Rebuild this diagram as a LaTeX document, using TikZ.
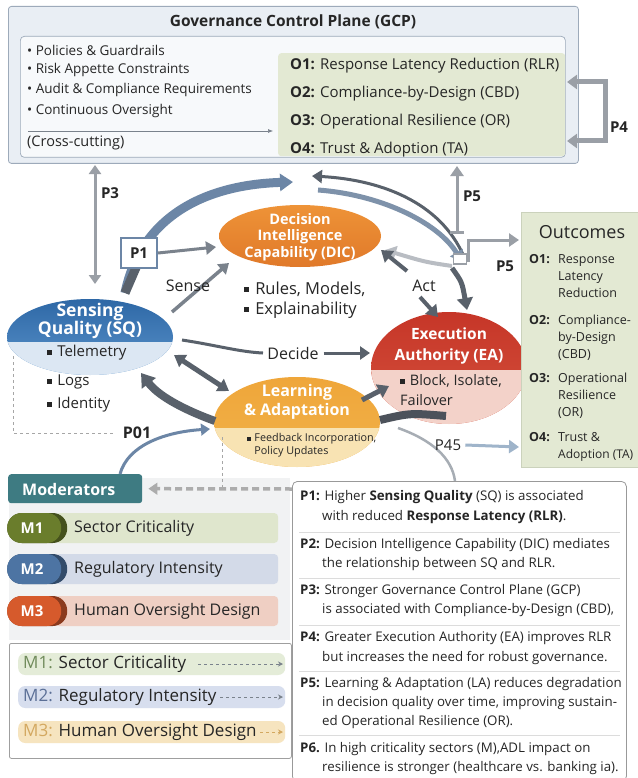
\documentclass[tikz,border=0pt]{standalone}
\usepackage{fontspec}
\setmainfont{Open Sans}
\usetikzlibrary{arrows.meta,shapes.geometric,calc}
\newcommand\fsz[2]{\fontsize{#1}{#2}\selectfont}
\newcommand\sqb{\raisebox{0.22ex}{\rule{0.32em}{0.32em}}\hspace{0.35em}}
\definecolor{txt}{HTML}{262626}
\definecolor{gcpfill}{HTML}{E9EEF4}
\definecolor{gcpline}{HTML}{9DAABA}
\definecolor{innerfill}{HTML}{F7F9FB}
\definecolor{grn}{HTML}{E3E9D3}
\definecolor{grnline}{HTML}{CBD2BC}
\definecolor{sqA}{HTML}{2E68A6}
\definecolor{sqB}{HTML}{5A93CB}
\definecolor{sqL}{HTML}{DCE7F3}
\definecolor{dicA}{HTML}{EE9337}
\definecolor{dicB}{HTML}{E0792A}
\definecolor{eaA}{HTML}{C63628}
\definecolor{eaB}{HTML}{D4503C}
\definecolor{eaL}{HTML}{F3D2C9}
\definecolor{laA}{HTML}{EFA63A}
\definecolor{laB}{HTML}{F1B24A}
\definecolor{laL}{HTML}{F8E3B3}
\definecolor{arrD}{HTML}{59616B}
\definecolor{arrM}{HTML}{7A828C}
\definecolor{arrL}{HTML}{A7ADB4}
\definecolor{arrG}{HTML}{9A9FA6}
\definecolor{arrB}{HTML}{6C86A6}
\definecolor{arrP}{HTML}{9FB4CA}
\definecolor{modteal}{HTML}{3E7B82}
\definecolor{panel}{HTML}{F1F2F3}
\definecolor{mA}{HTML}{6A7D2C}
\definecolor{mAl}{HTML}{DFE6CD}
\definecolor{mB}{HTML}{4D74A3}
\definecolor{mBl}{HTML}{D3DAE8}
\definecolor{mC}{HTML}{D65A2C}
\definecolor{mCl}{HTML}{EFCFC3}
\definecolor{lA}{HTML}{E4ECD8}
\definecolor{lAt}{HTML}{6F8A5A}
\definecolor{lB}{HTML}{D7DEEE}
\definecolor{lBt}{HTML}{5B6F96}
\definecolor{lC}{HTML}{F6E4BF}
\definecolor{lCt}{HTML}{D3A860}
\definecolor{divl}{HTML}{DCDCDC}
\begin{document}
\begin{tikzpicture}[x=1pt,y=-1pt,
  every node/.style={text=txt},
  body/.style={anchor=west, inner sep=0, font=\fsz{13.5}{16}},
  pline/.style={anchor=base west, inner sep=0, font=\fsz{13.3}{15}},
  oline/.style={anchor=base west, inner sep=0, font=\fsz{12.5}{15}},
  ttl/.style={text=white, align=center, inner sep=0},
  lbl/.style={font=\bfseries\fsz{13.5}{16}, inner sep=0},
  tip/.style={-{Triangle[length=#1pt,width=#1pt*1.3]}},
  ell/.style={ellipse, inner sep=0},
  bar/.style={anchor=west, inner sep=0, rounded corners=4pt},
  pill/.style={anchor=west, inner sep=0, rounded corners=14.5pt, minimum height=30pt}
]
\useasboundingbox[fill=white] (0,0) rectangle (637,778);

% ---------------- GCP ----------------
\node[draw=gcpline, fill=gcpfill, rounded corners=3pt, line width=0.8pt, anchor=north west,
      minimum width=570pt, minimum height=157pt, inner sep=0] (gcp) at (8,6) {};
\node[font=\bfseries\fsz{15.5}{18}] (gcpt) at (293,22) {Governance Control Plane (GCP)};
\node[draw=gcpline, fill=innerfill, rounded corners=4pt, line width=0.7pt, anchor=north west,
      minimum width=545pt, minimum height=121pt, inner sep=0] (gcpin) at (20,36) {};
\node[fill=grn, rounded corners=3pt, anchor=north west, minimum width=287pt,
      minimum height=103pt, inner sep=0] (grnbox) at (278,53) {};
\node[body] (b1) at (27,50) {• Policies \& Guardrails};
\node[body] (b2) at (27,70) {• Risk Appette Constraints};
\node[body] (b3) at (27,90) {• Audit \& Compliance Requirements};
\node[body] (b4) at (27,111) {• Continuous Oversight};
\coordinate (cc1) at (28,131);
\coordinate (cc2) at (273,131);
\draw[arrM, line width=0.6pt, -{Latex[length=5pt,width=4pt]}] (cc1) -- (cc2);
\node[body, font=\fsz{14.5}{17}] (b5) at (27,143) {(Cross-cutting)};
\node[body, font=\fsz{15}{17}] (go1) at (290,66) {\textbf{O1:} Response Latency Reduction (RLR)};
\node[body, font=\fsz{15}{17}] (go2) at (290,94) {\textbf{O2:} Compliance-by-Design (CBD)};
\node[body, font=\fsz{15}{17}] (go3) at (290,122) {\textbf{O3:} Operational Resilience (OR)};
\node[body, font=\fsz{15}{17}] (go4) at (290,150) {\textbf{O4:} Trust \& Adoption (TA)};

% P4 bracket
\coordinate (p4a) at (567,82);
\coordinate (p4b) at (605,82);
\coordinate (p4c) at (605,141);
\coordinate (p4d) at (567,141);
\draw[arrG, line width=5pt, line join=miter,
      {Triangle[length=10pt,width=14pt]}-{Triangle[length=10pt,width=14pt]}] (p4a) -- (p4b) -- (p4c) -- (p4d);
\node[lbl, font=\bfseries\fsz{15}{17}] (p4l) at (619,127) {P4};

% P3
\coordinate (p3a) at (95,165);
\coordinate (p3b) at (95,284);
\draw[arrG, line width=3pt, {Triangle[length=9pt,width=12pt]}-{Triangle[length=9pt,width=12pt]}] (p3a) -- (p3b);
\node[lbl, font=\bfseries\fsz{15}{17}] (p3l) at (110,193) {P3};

% ---------------- ellipses ----------------
\node[ell, minimum width=166pt, minimum height=76pt, top color=sqA, bottom color=sqB,
  path picture={\fill[sqL] ([yshift=-5pt]path picture bounding box.west) rectangle (path picture bounding box.south east);}]
  (SQ) at (90,337) {};
\node[ttl, font=\bfseries\fsz{17.5}{18.5}] (sqt) at (90,321) {Sensing\\Quality (SQ)};
\node[body, font=\fsz{15}{17}] (sq1) at (47,353) {\sqb Telemetry};
\node[body, font=\fsz{15}{17}] (sq2) at (47,382) {\sqb Logs};
\node[body, font=\fsz{15}{17}] (sq3) at (47,405) {\sqb Identity};

\node[ell, minimum width=162pt, minimum height=62pt, top color=dicA, bottom color=dicB] (DIC) at (300,236) {};
\node[ttl, font=\bfseries\fsz{14.5}{16.5}] (dict) at (300,237) {Decision\\Intelligence\\Capability (DIC)};
\node[body, font=\fsz{16.5}{18}] (dic1) at (244,289) {\sqb Rules, Models,};
\node[body, font=\fsz{16.5}{18}] (dic2) at (244,310) {\sqb Explainability};

\node[ell, minimum width=156pt, minimum height=112pt, top color=eaA, bottom color=eaB,
  path picture={\fill[eaL] ([yshift=-2pt]path picture bounding box.west) rectangle (path picture bounding box.south east);}]
  (EA) at (449,368) {};
\node[ttl, font=\bfseries\fsz{15.5}{21}] (eat) at (449,346) {Execution\\Authority (EA)};
\node[body, font=\fsz{14.5}{17}] (ea1) at (400,381) {\sqb Block, Isolate,};
\node[body, font=\fsz{14.5}{17}] (ea2) at (400,400) {Failover};

\node[ell, minimum width=166pt, minimum height=90pt, top color=laA, bottom color=laB,
  path picture={\fill[laL] ([yshift=-6pt]path picture bounding box.west) rectangle (path picture bounding box.south east);}]
  (LA) at (297,422) {};
\node[ttl, font=\bfseries\fsz{16}{19}] (lat) at (297,402) {Learning\\\& Adaptation};
\node[body, font=\fsz{10.8}{13}] (la1) at (247,439) {\sqb Feedback Incorporation,};
\node[body, font=\fsz{10.8}{13}] (la2) at (247,452) {\hphantom{\sqb}Policy Updates};

% ---------------- central connectors ----------------
\coordinate (a1s) at (125,293);
\coordinate (a1e) at (293,182);
\draw[arrB, line width=9pt, tip=13] (a1s) .. controls (140,220) and (200,185) .. (a1e);
\draw[arrD, line width=9pt] (a1s) -- (138,263);
\node[draw=arrB, fill=white, line width=2pt, minimum width=36pt, minimum height=30pt, inner sep=0,
      font=\bfseries\fsz{15}{17}] (P1) at (139,253) {P1};
\coordinate (dicw) at (216,247);
\draw[arrM, line width=3pt, tip=10] (P1.east) -- (dicw);

\coordinate (sen1) at (172,312);
\coordinate (sen2) at (229,263);
\draw[arrM, line width=3.5pt, tip=10] (sen1) -- (sen2);
\node[font=\fsz{16}{18}, inner sep=0] (sense) at (188,286) {Sense};

\coordinate (dc1) at (182,340);
\coordinate (dc2) at (263,353);
\coordinate (eaw) at (370,353);
\draw[arrD, line width=3pt] (dc1) .. controls (215,345) and (240,352) .. (dc2);
\node[font=\fsz{16}{18}, inner sep=0] (dec) at (293,353) {Decide};
\draw[arrD, line width=3pt, tip=10] ([xshift=5pt]dec.east) -- (eaw);

\coordinate (sl1) at (174,355);
\coordinate (sl2) at (229,391);
\draw[arrD, line width=5pt, {Triangle[length=11pt,width=14pt]}-{Triangle[length=11pt,width=14pt]}] (sl1) -- (sl2);
\coordinate (ls1) at (215,421);
\coordinate (ls2) at (141,373);
\draw[arrD, line width=8pt, tip=13] (ls1) .. controls (190,412) and (160,398) .. (ls2);

\coordinate (t1) at (466,262);
\coordinate (t2) at (312,176);
\draw[arrD, line width=3pt, tip=10] (t1) .. controls (445,205) and (385,180) .. (t2);
\coordinate (t3) at (318,190);
\coordinate (t4) at (462,262);
\draw[color=arrB!70!arrL, line width=5pt, tip=11] (t3) .. controls (385,195) and (440,225) .. (t4);
\coordinate (t5) at (452,266);
\coordinate (dice) at (385,250);
\draw[color=arrL!80!white, line width=4pt, tip=11] (t5) .. controls (425,262) .. (dice);

\coordinate (ac1) at (407,271);
\coordinate (ac2) at (381,250);
\draw[arrD, line width=4pt, tip=11] (ac1) -- (ac2);
\node[font=\fsz{16}{18}, inner sep=0] (act) at (424,286) {Act};
\coordinate (ac3) at (420,297);
\coordinate (ac4) at (438,317);
\draw[arrD, line width=4pt, tip=11] (ac3) -- (ac4);

\coordinate (e1) at (452,268);
\coordinate (e2) at (467,310);
\draw[arrD, line width=5pt, tip=12] (e1) .. controls (462,282) .. (e2);

\coordinate (p5a) at (457,232);
\coordinate (p5b) at (457,166);
\draw[arrG, line width=3pt, tip=10] (p5a) -- (p5b);
\draw[arrG, line width=3pt] (450,232) -- (464,232);
\node[lbl, font=\bfseries\fsz{15}{17}] (p5l) at (472,196) {P5};
\coordinate (st1) at (468,262);
\coordinate (st2) at (519,240);
\draw[arrG, line width=3pt, tip=10] (st1) |- (st2);
\node[draw=arrG, fill=white, line width=1.2pt, minimum width=13pt, minimum height=10pt, inner sep=0] (sq5) at (460,259) {};
\node[lbl, font=\bfseries\fsz{15}{17}] (p5m) at (505,266) {P5};

\coordinate (le1) at (362,400);
\coordinate (le2) at (389,386);
\draw[arrD, line width=5pt, tip=11] (le1) -- (le2);
\coordinate (bd1) at (380,420);
\coordinate (bd2) at (446,416);
\draw[color=arrD!85!black, line width=8pt] (bd1) .. controls (410,413) .. (bd2);
\coordinate (tc1) at (398,428);
\coordinate (tc2) at (455,481);
\draw[arrL, line width=2.5pt] (tc1) .. controls (432,440) and (452,458) .. (tc2);

% ---------------- Outcomes ----------------
\node[fill=grn, draw=grnline, anchor=north west, minimum width=125pt, minimum height=255pt, inner sep=0] (outc) at (521,212) {};
\node[font=\fsz{18}{21}, inner sep=0] (outt) at (582,232) {Outcomes};
\node[oline, font=\bfseries\fsz{12.5}{15}] (ol1) at (529,263) {O1:};
\node[oline] (ob1a) at (558,263) {Response};
\node[oline] (ob1b) at (558,280) {Latency};
\node[oline] (ob1c) at (558,297) {Reduction};
\node[oline, font=\bfseries\fsz{12.5}{15}] (ol2) at (529,324) {O2:};
\node[oline] (ob2a) at (558,324) {Compliance-};
\node[oline] (ob2b) at (558,341) {by-Design};
\node[oline] (ob2c) at (558,358) {(CBD)};
\node[oline, font=\bfseries\fsz{12.5}{15}] (ol3) at (529,382) {O3:};
\node[oline] (ob3a) at (558,382) {Operational};
\node[oline] (ob3b) at (558,399) {Resilience};
\node[oline] (ob3c) at (558,416) {(OR)};
\node[oline, font=\bfseries\fsz{12.5}{15}] (ol4) at (529,441) {O4:};
\node[oline] (ob4a) at (558,441) {Trust \&};
\node[oline, font=\fsz{12}{15}] (ob4b) at (558,458) {Adoption (TA)};

\node[font=\fsz{15}{17}, inner sep=0] (p45) at (448,445) {P45};
\coordinate (p45e) at (519,447);
\draw[arrP, line width=3pt, tip=10] ([xshift=4pt]p45.east) -- (p45e);

% left dashed + P01
\coordinate (d1) at (13,356);
\coordinate (d2) at (13,433);
\coordinate (d3) at (115,433);
\draw[gray!70, dashed, line width=0.9pt] (d1) -- (d2) -- (d3);
\node[lbl, font=\bfseries\fsz{16}{18}] (p01) at (137,433) {P01};

% ---------------- Moderators ----------------
\fill[panel] (9,478) rectangle (290,640);
\node[fill=modteal, rounded corners=3pt, anchor=north west, minimum width=134pt, minimum height=29pt, inner sep=0] (mod) at (8,474) {};
\node[font=\bfseries\fsz{16}{18}, text=white, anchor=west, inner sep=0] (modt) at (22,489) {Moderators};
\coordinate (lab) at (210,429);
\draw[arrB, line width=3pt, tip=9] (mod.north -| 120,0) .. controls (128,445) and (165,432) .. (lab);
\coordinate (dv1) at (222,437);
\coordinate (dv2) at (222,488);
\draw[gray!70, dashed, line width=0.9pt] (dv1) -- (dv2);

\node[bar, fill=mAl, minimum width=223pt, minimum height=30pt] (m1bar) at (55,528) {};
\node[pill, fill=mA!65!black, minimum width=60pt] (m1s) at (7,528) {};
\node[pill, fill=mA, minimum width=54pt] (m1p) at (7,528) {};
\node[font=\bfseries\fsz{15}{17}, text=white] (m1l) at (32,528) {M1};
\node[anchor=west, inner sep=0, font=\fsz{16}{18}] (m1t) at (74,528) {Sector Criticality};

\node[bar, fill=mBl, minimum width=223pt, minimum height=30pt] (m2bar) at (55,569) {};
\node[pill, fill=mB!65!black, minimum width=60pt] (m2s) at (7,569) {};
\node[pill, fill=mB, minimum width=54pt] (m2p) at (7,569) {};
\node[font=\bfseries\fsz{15}{17}, text=white] (m2l) at (32,569) {M2};
\node[anchor=west, inner sep=0, font=\fsz{16}{18}] (m2t) at (74,569) {Regulatory Intensity};

\node[bar, fill=mCl, minimum width=223pt, minimum height=30pt] (m3bar) at (55,611) {};
\node[pill, fill=mC!65!black, minimum width=60pt] (m3s) at (7,611) {};
\node[pill, fill=mC, minimum width=54pt] (m3p) at (7,611) {};
\node[font=\bfseries\fsz{15}{17}, text=white] (m3l) at (32,611) {M3};
\node[anchor=west, inner sep=0, font=\fsz{16}{18}] (m3t) at (74,611) {Human Oversight Design};

% legend box
\node[draw=gray!75, fill=white, line width=0.8pt, rounded corners=2pt, anchor=north west,
      minimum width=282pt, minimum height=115pt, inner sep=0] (leg) at (9,643) {};
\node[bar, fill=lA, rounded corners=7pt, minimum width=267pt, minimum height=22pt] (l1bar) at (18,664) {};
\node[anchor=west, inner sep=0, font=\fsz{17}{19}] (l1t) at (23,664) {\textcolor{lAt}{M1:} Sector Criticality};
\coordinate (l1a) at (198,664); \coordinate (l1b) at (283,664);
\draw[arrM, dashed, line width=0.8pt, -{Stealth[length=5pt,width=5pt]}] (l1a) -- (l1b);
\node[bar, fill=lB, rounded corners=7pt, minimum width=267pt, minimum height=22pt] (l2bar) at (18,697) {};
\node[anchor=west, inner sep=0, font=\fsz{17}{19}] (l2t) at (23,697) {\textcolor{lBt}{M2:} Regulatory Intensity};
\coordinate (l2a) at (220,697); \coordinate (l2b) at (283,697);
\draw[arrM, dashed, line width=0.8pt, -{Stealth[length=5pt,width=5pt]}] (l2a) -- (l2b);
\node[bar, fill=lC, rounded corners=7pt, minimum width=267pt, minimum height=22pt] (l3bar) at (18,732) {};
\node[anchor=west, inner sep=0, font=\fsz{17}{19}] (l3t) at (23,732) {\textcolor{lCt}{M3:} Human Oversight Design};
\coordinate (l3a) at (260,732); \coordinate (l3b) at (283,732);
\draw[lCt, dashed, line width=0.8pt, -{Stealth[length=5pt,width=5pt]}] (l3a) -- (l3b);

% ---------------- Propositions ----------------
\node[draw=gray!80, fill=white, rounded corners=5pt, line width=0.8pt, anchor=north west,
      minimum width=334pt, minimum height=300pt, inner sep=0] (prop) at (292,481) {};
\draw[color=gray!65, line width=3.5pt, dash pattern=on 7pt off 4pt, tip=9] (prop.north west |- 0,489) -- ([xshift=6pt]mod.east);

\foreach \yy in {532,578,625,671,735} \draw[divl, line width=0.6pt] (299,\yy) -- (620,\yy);
\node[pline] (pr1a) at (300,500) {\textbf{P1:} Higher \textbf{Sensing Quality} (SQ) is associated};
\node[pline] (pr1b) at (322,520) {with reduced \textbf{Response Latency (RLR)}.};
\node[pline] (pr2a) at (300,548) {\textbf{P2:} Decision Intelligence Capability (DIC) mediates};
\node[pline] (pr2b) at (322,567) {the relationship between SQ and RLR.};
\node[pline] (pr3a) at (300,594) {\textbf{P3:} Stronger Governance Control Plane (GCP)};
\node[pline] (pr3b) at (322,613) {is associated with Compliance-by-Design (CBD),};
\node[pline] (pr4a) at (300,641) {\textbf{P4:} Greater Execution Authority (EA) improves RLR};
\node[pline] (pr4b) at (322,661) {but increases the need for robust governance.};
\node[pline] (pr5a) at (300,687) {\textbf{P5:} Learning \& Adaptation (LA) reduces degradation};
\node[pline] (pr5b) at (322,706) {in decision quality over time, improving sustain-};
\node[pline] (pr5c) at (322,725) {ed Operational Resilience (OR).};
\node[pline] (pr6a) at (300,752) {\textbf{P6.} In high criticality sectors (M),ADL impact on};
\node[pline] (pr6b) at (322,771) {resilience is stronger (healthcare vs. banking ia).};
\end{tikzpicture}
\end{document}
